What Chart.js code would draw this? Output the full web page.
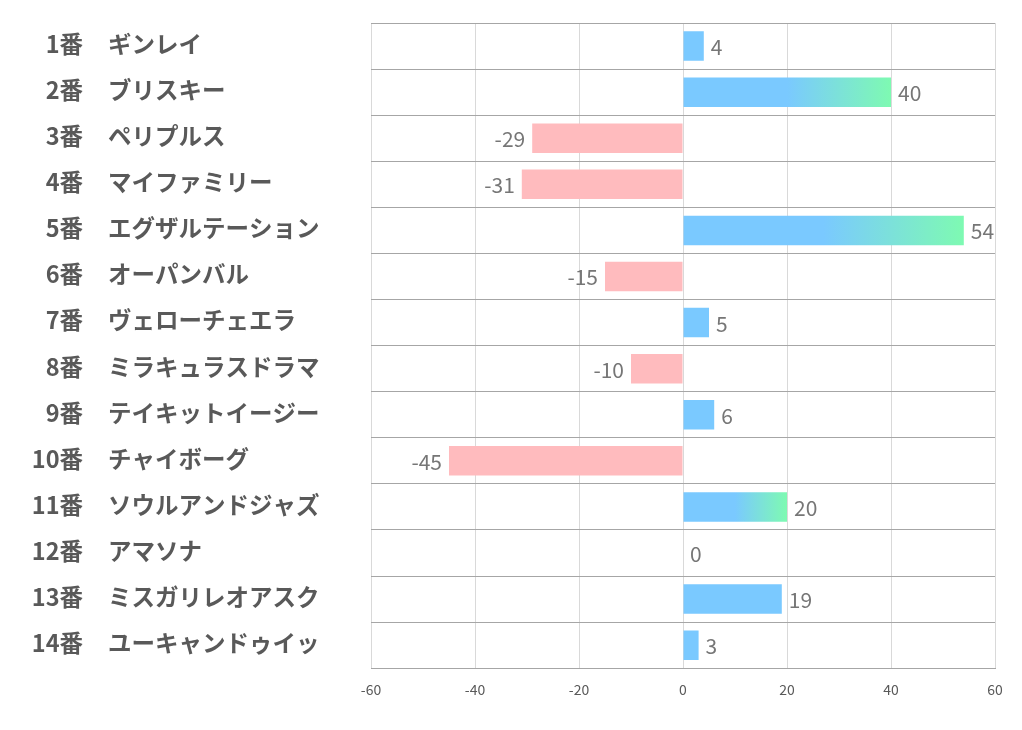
<!DOCTYPE html>
<html>
<head>
<meta charset="utf-8">
<script src="https://cdn.jsdelivr.net/npm/chart.js@4"></script>
<style>
  body { margin: 0; background: #fff; }
  #wrap { width: 1022px; height: 730px; position: relative; }
</style>
</head>
<body>
<div id="wrap"><canvas id="myChart"></canvas></div>
<script>
const numbers = ["1番", "2番", "3番", "4番", "5番", "6番", "7番", "8番", "9番", "10番", "11番", "12番", "13番", "14番"]
const horses = ["ギンレイ", "ブリスキー", "ペリプルス", "マイファミリー", "エグザルテーション", "オーパンバル", "ヴェローチェエラ",
    "ミラキュラスドラマ", "テイキットイージー", "チャイボーグ", "ソウルアンドジャズ", "アマソナ", "ミスガリレオアスク", "ユーキャンドゥイッ"]
const scores = [4, 40, -29, -31, 54, -15, 5, -10, 6, -45, 20, 0, 19, 3]
const xTicks = [-60, -40, -20, 0, 20, 40, 60]

const blue = 'rgb(122, 201, 255)'
const green = 'rgb(126, 250, 178)'
const pink = 'rgb(255, 187, 190)'
const JP = '"Noto Sans CJK JP", "Noto Sans", sans-serif'

function barColor(ctx) {
    const v = ctx.raw
    if (v < 0) return pink
    if (v < 20) return blue
    const area = ctx.chart.chartArea
    if (!area) return blue
    const xs = ctx.chart.scales.x
    const x0 = xs.getPixelForValue(0)
    const x1 = xs.getPixelForValue(v)
    const g = ctx.chart.ctx.createLinearGradient(x0, 0, x1, 0)
    g.addColorStop(0, blue)
    g.addColorStop(0.5, blue)
    g.addColorStop(1, green)
    return g
}

// value labels next to each bar
const valueLabels = {
    id: 'valueLabels',
    afterDatasetsDraw(chart) {
        const c = chart.ctx
        const meta = chart.getDatasetMeta(0)
        c.save()
        c.font = '21px ' + JP
        c.fillStyle = '#767676'
        c.textBaseline = 'middle'
        meta.data.forEach((bar, i) => {
            const v = scores[i]
            if (v < 0) {
                c.textAlign = 'right'
                c.fillText(String(v), bar.x - 7, bar.y + 1)
            } else {
                c.textAlign = 'left'
                c.fillText(String(v), bar.x + 7, bar.y + 1)
            }
        })
        c.restore()
    }
}

// two-column category labels on the left
const sideLabels = {
    id: 'sideLabels',
    afterDraw(chart) {
        const c = chart.ctx
        const ys = chart.scales.y
        c.save()
        c.font = 'bold 23.5px ' + JP
        c.fillStyle = '#595959'
        c.textBaseline = 'middle'
        numbers.forEach((n, i) => {
            const y = ys.getPixelForValue(i) - 2
            c.textAlign = 'right'
            c.fillText(n, 83, y)
            c.textAlign = 'left'
            c.fillText(horses[i], 108, y)
        })
        c.restore()
    }
}

const data = {
    labels: horses,
    datasets: [{
        axis: 'y',
        data: scores,
        backgroundColor: barColor,
        borderWidth: 0,
        categoryPercentage: 1,
        barPercentage: 0.64
    }]
}

const config = {
    type: 'bar',
    data: data,
    options: {
        indexAxis: 'y',
        responsive: true,
        maintainAspectRatio: false,
        animation: false,
        layout: {
            padding: { left: 371, right: 27, top: 23, bottom: 19 }
        },
        scales: {
            x: {
                min: -60,
                max: 60,
                afterBuildTicks(axis) {
                    axis.ticks = xTicks.map(v => ({ value: v }))
                },
                grid: {
                    color: '#d9d9d9',
                    drawTicks: false
                },
                border: { display: true, color: '#a6a6a6' },
                ticks: {
                    padding: 13,
                    color: '#595959',
                    font: { size: 14, family: JP }
                }
            },
            y: {
                grid: {
                    offset: true,
                    color: '#a6a6a6',
                    drawTicks: false
                },
                border: { display: false },
                ticks: { display: false }
            }
        },
        plugins: {
            legend: { display: false },
            tooltip: { enabled: false }
        }
    },
    plugins: [valueLabels, sideLabels]
}

var myChart = new Chart(
    document.getElementById('myChart'),
    config
)
</script>
</body>
</html>
